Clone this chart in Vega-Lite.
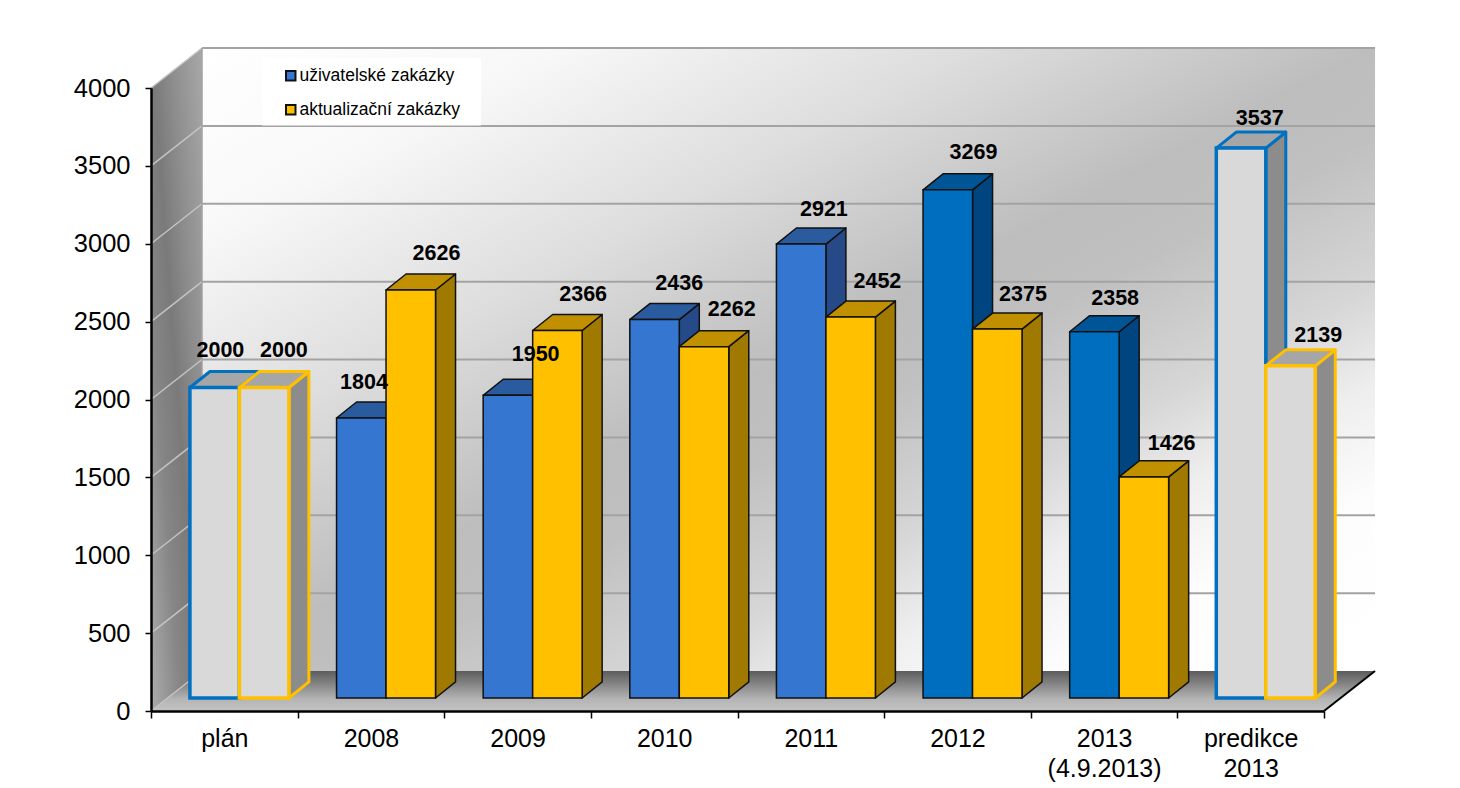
{
"$schema":"https://vega.github.io/schema/vega-lite/v6.json",
"width":1173,"height":623,
"autosize":{"type":"none"},
"padding":{"left":151,"top":88,"right":136,"bottom":77},
"background":"white",
"config":{"view":{"stroke":null},"font":"Liberation Sans"},
"data":{"values":[
{"category":"plán","series":"uživatelské zakázky","value":2000},
{"category":"plán","series":"aktualizační zakázky","value":2000},
{"category":"2008","series":"uživatelské zakázky","value":1804},
{"category":"2008","series":"aktualizační zakázky","value":2626},
{"category":"2009","series":"uživatelské zakázky","value":1950},
{"category":"2009","series":"aktualizační zakázky","value":2366},
{"category":"2010","series":"uživatelské zakázky","value":2436},
{"category":"2010","series":"aktualizační zakázky","value":2262},
{"category":"2011","series":"uživatelské zakázky","value":2921},
{"category":"2011","series":"aktualizační zakázky","value":2452},
{"category":"2012","series":"uživatelské zakázky","value":3269},
{"category":"2012","series":"aktualizační zakázky","value":2375},
{"category":"2013 (4.9.2013)","series":"uživatelské zakázky","value":2358},
{"category":"2013 (4.9.2013)","series":"aktualizační zakázky","value":1426},
{"category":"predikce 2013","series":"uživatelské zakázky","value":3537},
{"category":"predikce 2013","series":"aktualizační zakázky","value":2139}
]},
"transform":[
{"calculate":"indexof(['plán','2008','2009','2010','2011','2012','2013 (4.9.2013)','predikce 2013'],datum.category)","as":"i"},
{"calculate":"datum.series==='uživatelské zakázky'?0:1","as":"s"},
{"calculate":"datum.i+0.603-0.3375*(1-datum.s)","as":"x0"},
{"calculate":"datum.x0+0.3375","as":"x1"},
{"calculate":"datum.value+77","as":"top"},
{"calculate":"(datum.i==0||datum.i==7)?'g':((datum.s==0&&datum.i>=5)?'l':(datum.s==0?'u':'a'))","as":"tone"},
{"calculate":"datum.tone=='g'?'plán a predikce':(datum.tone=='l'?'uživatelské 2012–2013':datum.series)","as":"frontKey"}
],
"encoding":{
"x":{"field":"ax","type":"quantitative","title":null,"scale":{"domain":[0,8],"nice":false,"zero":false},
 "axis":{"values":[0,0.5,1,1.5,2,2.5,3,3.5,4,4.5,5,5.5,6,6.5,7,7.5,8],"grid":false,"zindex":1,"domainColor":"#000000","domainWidth":2.5,"tickColor":"#000000","tickWidth":1.5,"tickSize":7,
  "tickOpacity":{"condition":{"test":"datum.value%1!=0","value":0},"value":1},
  "labelExpr":"datum.value%1==0?'':['plán','2008','2009','2010','2011','2012',['2013','(4.9.2013)'],['predikce','2013']][floor(datum.value)]",
  "labelFont":"Liberation Sans","labelFontSize":25,"labelColor":"#000000","labelPadding":8,"labelOverlap":false,"labelBound":false,"labelFlush":false,"labelLineHeight":30}},
"y":{"field":"ay","type":"quantitative","title":null,"stack":null,"scale":{"domain":[0,4000],"nice":false,"zero":false},
 "axis":{"values":[0,500,1000,1500,2000,2500,3000,3500,4000],"format":"d","grid":false,"zindex":1,"domainColor":"#000000","domainWidth":2.5,"tickColor":"#000000","tickWidth":1.5,"tickSize":6,
  "labelFont":"Liberation Sans","labelFontSize":25.5,"labelColor":"#000000","labelPadding":15,"labelOverlap":false,"labelBound":false,"labelFlush":false}}
},
"layer":[
{"data":{"values":[{"wall":"back"}]},
 "transform":[{"calculate":"0.348","as":"ax"},{"calculate":"8.348","as":"ax2"},{"calculate":"256.8","as":"ay"},{"calculate":"4256.8","as":"ay2"}],
 "mark":{"type":"rect","fill":{"gradient":"linear","x1":0,"y1":0,"x2":1,"y2":1,"stops":[{"offset":0,"color":"#ffffff"},{"offset":0.15,"color":"#f8f8f8"},{"offset":0.33,"color":"#dddddd"},{"offset":0.5,"color":"#bdbdbd"},{"offset":0.57,"color":"#c0c0c0"},{"offset":0.69,"color":"#d6d6d6"},{"offset":0.77,"color":"#eeeeee"},{"offset":0.86,"color":"#fdfdfd"},{"offset":1,"color":"#ffffff"}]}},
 "encoding":{"x2":{"field":"ax2"},"y2":{"field":"ay2"}}},
{"data":{"values":[{"t":0},{"t":1}]},
 "transform":[{"calculate":"datum.t*0.348","as":"ax"},{"calculate":"4000+datum.t*256.8","as":"ay"},{"calculate":"datum.t*256.8","as":"ay2"}],
 "mark":{"type":"area","fill":{"gradient":"linear","x1":1,"y1":0,"x2":0,"y2":1,"stops":[{"offset":0,"color":"#a8a8a8"},{"offset":0.3,"color":"#8e8e8e"},{"offset":0.5,"color":"#7a7a7a"},{"offset":0.7,"color":"#868686"},{"offset":1,"color":"#acacac"}]}},
 "encoding":{"y2":{"field":"ay2"}}},
{"data":{"values":[{"t":0},{"t":1},{"t":2},{"t":3}]},
 "transform":[{"calculate":"[0,0.348,8,8.348][datum.t]","as":"ax"},{"calculate":"datum.t==0?0:256.8","as":"ay"},{"calculate":"datum.t==3?256.8:0","as":"ay2"}],
 "mark":{"type":"area","fill":{"gradient":"linear","x1":0,"y1":1,"x2":0,"y2":0,"stops":[{"offset":0,"color":"#c4c4c4"},{"offset":0.3,"color":"#b4b4b4"},{"offset":1,"color":"#5c5c5c"}]}},
 "encoding":{"y2":{"field":"ay2"}}},
{"data":{"values":[{"tick":500},{"tick":1000},{"tick":1500},{"tick":2000},{"tick":2500},{"tick":3000},{"tick":3500},{"tick":4000}]},
 "transform":[{"calculate":"0.348","as":"ax"},{"calculate":"8.348","as":"ax2"},{"calculate":"datum.tick+256.8","as":"ay"}],
 "mark":{"type":"rule","color":"#a3a3a3","strokeWidth":2},
 "encoding":{"x2":{"field":"ax2"}}},
{"data":{"values":[{"tick":0},{"tick":500},{"tick":1000},{"tick":1500},{"tick":2000},{"tick":2500},{"tick":3000},{"tick":3500},{"tick":4000}]},
 "transform":[{"calculate":"0","as":"ax"},{"calculate":"0.348","as":"ax2"},{"calculate":"datum.tick","as":"ay"},{"calculate":"datum.tick+256.8","as":"ay2"}],
 "mark":{"type":"rule","color":"#c4c4c4","strokeWidth":1.5},
 "encoding":{"x2":{"field":"ax2"},"y2":{"field":"ay2"}}},
{"data":{"values":[{"edge":"wall"}]},
 "transform":[{"calculate":"0.348","as":"ax"},{"calculate":"256.8","as":"ay"},{"calculate":"4256.8","as":"ay2"}],
 "mark":{"type":"rule","color":"#a3a3a3","strokeWidth":1.5},
 "encoding":{"y2":{"field":"ay2"}}},
{"data":{"values":[{"edge":"floor"}]},
 "transform":[{"calculate":"8","as":"ax"},{"calculate":"8.348","as":"ax2"},{"calculate":"0","as":"ay"},{"calculate":"256.8","as":"ay2"}],
 "mark":{"type":"rule","color":"#000000","strokeWidth":2},
 "encoding":{"x2":{"field":"ax2"},"y2":{"field":"ay2"}}},
{"data":{"values":[{"box":"legend"}]},
 "transform":[{"calculate":"0.757","as":"ax"},{"calculate":"2.25","as":"ax2"},{"calculate":"3760","as":"ay"},{"calculate":"4193","as":"ay2"}],
 "mark":{"type":"rect","fill":"#ffffff"},
 "encoding":{"x2":{"field":"ax2"},"y2":{"field":"ay2"}}},

{"transform":[{"filter":"datum.s==0"},{"calculate":"[0,1]","as":"t"},{"flatten":["t"]},{"calculate":"datum.x1+datum.t*0.1364","as":"ax"},{"calculate":"datum.top+datum.t*103","as":"ay"},{"calculate":"83.5+datum.t*103","as":"ay2"},{"calculate":"datum.tone+' side'","as":"fk"},{"calculate":"datum.category+datum.series","as":"bar"}],
 "mark":{"type":"area","strokeJoin":"round"},
 "encoding":{"y2":{"field":"ay2"},"detail":{"field":"bar"},
  "fill":{"field":"fk","type":"nominal","title":null,"scale":{"domain":["uživatelské zakázky","aktualizační zakázky","uživatelské 2012–2013","plán a predikce","u side","a side","l side","g side","u top","a top","l top","g top"],"range":["#3476D0","#FFC000","#006EBF","#D9D9D9","#264A87","#A07A00","#004480","#8C8C8C","#2A5B9F","#C09000","#005596","#A6A6A6"]},
   "legend":{"values":["uživatelské zakázky","aktualizační zakázky"],"orient":"none","legendX":131,"legendY":-21,"padding":0,"symbolType":"square","symbolSize":90,"symbolStrokeColor":"#222222","symbolStrokeWidth":2,"symbolOpacity":1,"labelFont":"Liberation Sans","labelFontSize":17.5,"labelColor":"#000000","labelOffset":0,"labelLimit":400,"rowPadding":15,"title":null}},
  "stroke":{"condition":{"test":"datum.tone=='g'","value":"#0070C0"},"value":"#111111"},
  "strokeWidth":{"condition":{"test":"datum.tone=='g'","value":3},"value":1.5}}},
{"transform":[{"filter":"datum.s==0"},{"calculate":"[0,1,2,3]","as":"t"},{"flatten":["t"]},{"calculate":"[datum.x0,datum.x0+0.1364,datum.x1,datum.x1+0.1364][datum.t]","as":"ax"},{"calculate":"datum.top+(datum.t==0?0:103)","as":"ay"},{"calculate":"datum.top+(datum.t==3?103:0)","as":"ay2"},{"calculate":"datum.tone+' top'","as":"fk"},{"calculate":"datum.category+datum.series","as":"bar"}],
 "mark":{"type":"area","strokeJoin":"round"},
 "encoding":{"y2":{"field":"ay2"},"detail":{"field":"bar"},
  "fill":{"field":"fk","type":"nominal"},
  "stroke":{"condition":{"test":"datum.tone=='g'","value":"#0070C0"},"value":"#111111"},
  "strokeWidth":{"condition":{"test":"datum.tone=='g'","value":3},"value":1.5}}},
{"transform":[{"filter":"datum.s==0"},{"calculate":"datum.x0","as":"ax"},{"calculate":"datum.x1","as":"ax2"},{"calculate":"datum.top","as":"ay"},{"calculate":"83.5","as":"ay2"}],
 "mark":{"type":"rect"},
 "encoding":{"x2":{"field":"ax2"},"y2":{"field":"ay2"},
  "fill":{"field":"frontKey","type":"nominal"},
  "stroke":{"condition":{"test":"datum.tone=='g'","value":"#0070C0"},"value":"#111111"},
  "strokeWidth":{"condition":{"test":"datum.tone=='g'","value":3.5},"value":1.5}}},

{"transform":[{"filter":"datum.s==1"},{"calculate":"[0,1]","as":"t"},{"flatten":["t"]},{"calculate":"datum.x1+datum.t*0.1364","as":"ax"},{"calculate":"datum.top+datum.t*103","as":"ay"},{"calculate":"83.5+datum.t*103","as":"ay2"},{"calculate":"datum.tone+' side'","as":"fk"},{"calculate":"datum.category+datum.series","as":"bar"}],
 "mark":{"type":"area","strokeJoin":"round"},
 "encoding":{"y2":{"field":"ay2"},"detail":{"field":"bar"},
  "fill":{"field":"fk","type":"nominal"},
  "stroke":{"condition":{"test":"datum.tone=='g'","value":"#FFC000"},"value":"#111111"},
  "strokeWidth":{"condition":{"test":"datum.tone=='g'","value":3},"value":1.5}}},
{"transform":[{"filter":"datum.s==1"},{"calculate":"[0,1,2,3]","as":"t"},{"flatten":["t"]},{"calculate":"[datum.x0,datum.x0+0.1364,datum.x1,datum.x1+0.1364][datum.t]","as":"ax"},{"calculate":"datum.top+(datum.t==0?0:103)","as":"ay"},{"calculate":"datum.top+(datum.t==3?103:0)","as":"ay2"},{"calculate":"datum.tone+' top'","as":"fk"},{"calculate":"datum.category+datum.series","as":"bar"}],
 "mark":{"type":"area","strokeJoin":"round"},
 "encoding":{"y2":{"field":"ay2"},"detail":{"field":"bar"},
  "fill":{"field":"fk","type":"nominal"},
  "stroke":{"condition":{"test":"datum.tone=='g'","value":"#FFC000"},"value":"#111111"},
  "strokeWidth":{"condition":{"test":"datum.tone=='g'","value":3},"value":1.5}}},
{"transform":[{"filter":"datum.s==1"},{"calculate":"datum.x0","as":"ax"},{"calculate":"datum.x1","as":"ax2"},{"calculate":"datum.top","as":"ay"},{"calculate":"83.5","as":"ay2"}],
 "mark":{"type":"rect"},
 "encoding":{"x2":{"field":"ax2"},"y2":{"field":"ay2"},
  "fill":{"field":"frontKey","type":"nominal"},
  "stroke":{"condition":{"test":"datum.tone=='g'","value":"#FFC000"},"value":"#111111"},
  "strokeWidth":{"condition":{"test":"datum.tone=='g'","value":3.5},"value":1.5}}},

{"transform":[
 {"calculate":"[[-19,-5],[-22,1],[3,1],[0,3],[-2,2],[1,1],[-4,3],[-6,3]][datum.i][datum.s]","as":"shiftX"},
 {"calculate":"[[37,37],[35,36],[40,36],[36,37],[34,35],[37,34],[33,33],[29,30]][datum.i][datum.s]","as":"shiftUp"},
 {"calculate":"datum.x1+datum.shiftX/146.6","as":"ax"},
 {"calculate":"datum.top+datum.shiftUp/0.15575","as":"ay"}],
 "mark":{"type":"text","font":"Liberation Sans","fontWeight":"bold","fontSize":21.5,"color":"#000000","align":"center","baseline":"middle"},
 "encoding":{"text":{"field":"value","type":"quantitative","format":"d"}}}
]
}
